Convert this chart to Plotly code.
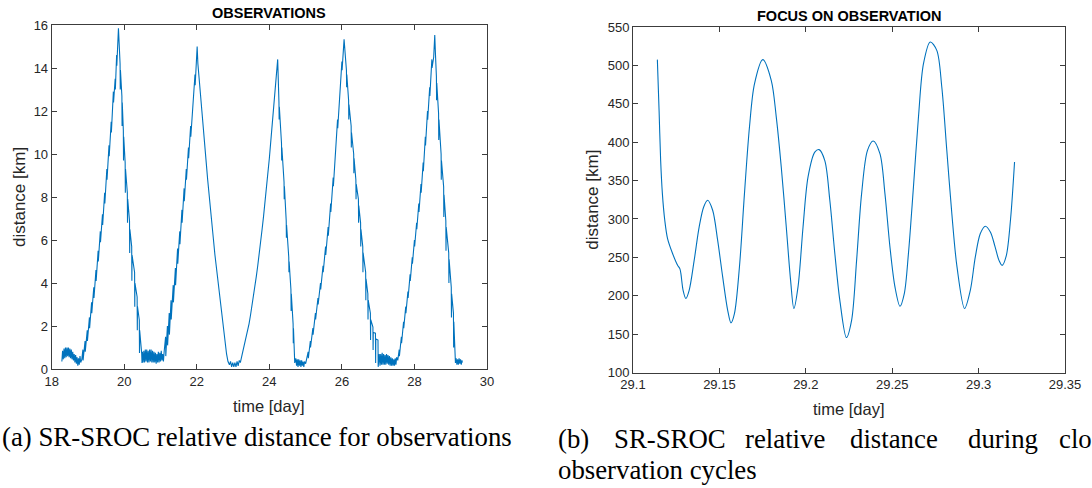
import plotly.graph_objects as go

# ---------------- data: left panel (time [day], distance [km]) ----------------
floor_a = [(18.28,0.35),(18.30,0.85),(18.32,0.45),(18.34,0.95),(18.36,0.5),(18.38,1.0),(18.40,0.55),(18.42,1.0),
           (18.44,0.6),(18.46,1.0),(18.48,0.55),(18.50,0.95),(18.52,0.5),(18.54,0.9),(18.56,0.45),(18.58,0.8),
           (18.60,0.4),(18.62,0.7),(18.64,0.3),(18.66,0.65),(18.68,0.25),(18.70,0.55),(18.72,0.15),(18.74,0.5),
           (18.76,0.2),(18.78,0.6),(18.80,0.3),(18.83,0.45)]
rise_1 = [(18.86,0.9),(18.865,0.4),(18.92,1.3),(18.925,0.8),(18.98,1.8),(18.985,1.3),(19.04,2.4),(19.045,1.9),
          (19.10,3.1),(19.105,2.6),(19.16,3.8),(19.165,3.3),(19.22,4.6),(19.225,4.1),(19.28,5.5),(19.285,5.0),
          (19.34,6.4),(19.345,5.9),(19.40,7.2),(19.405,6.7),(19.46,8.2),(19.465,7.7),(19.52,9.3),(19.525,8.8),
          (19.58,10.4),(19.585,9.9),(19.64,11.5),(19.645,11.0),(19.70,12.9),(19.705,12.4),(19.75,13.5),(19.755,13.0),
          (19.79,14.6),(19.795,14.1),(19.84,15.85)]
fall_1 = [(19.885,14.2),(19.89,13.0),(19.895,13.9),(19.935,12.7),(19.94,11.3),(19.945,12.4),(19.975,11.1),
          (19.98,9.7),(19.985,10.8),(20.025,9.6),(20.03,8.2),(20.035,9.3),(20.085,8.2),(20.09,6.8),(20.095,7.9),
          (20.145,6.9),(20.15,5.4),(20.155,6.5),(20.205,5.7),(20.21,4.1),(20.215,5.3),(20.285,4.5),(20.29,2.9),
          (20.295,4.0),(20.355,3.35),(20.36,1.8),(20.365,2.9),(20.415,2.28),(20.42,0.74),(20.425,1.8),
          (20.48,0.74),(20.49,0.28)]
floor_b = [(20.50,0.8),(20.52,0.3),(20.54,0.85),(20.56,0.3),(20.58,0.9),(20.60,0.35),(20.62,0.9),(20.64,0.3),
           (20.66,0.85),(20.68,0.3),(20.70,0.9),(20.72,0.35),(20.74,0.9),(20.76,0.3),(20.78,0.85),(20.80,0.3),
           (20.82,0.8),(20.84,0.3),(20.86,0.75),(20.88,0.25),(20.90,0.7),(20.92,0.3),(20.94,0.8),(20.96,0.3),
           (20.98,0.75),(21.00,0.35),(21.02,0.85),(21.04,0.4),(21.06,0.7),(21.08,0.35),(21.10,0.8)]
rise_2 = [(21.14,1.5),(21.145,0.6),(21.19,2.0),(21.195,1.1),(21.24,2.6),(21.245,1.6),(21.29,3.2),(21.295,2.3),
          (21.35,3.9),(21.355,3.1),(21.41,4.7),(21.415,3.9),(21.47,5.6),(21.475,4.9),(21.53,6.4),(21.535,5.8),
          (21.59,7.4),(21.595,6.8),(21.65,8.4),(21.655,7.8),(21.71,9.3),(21.715,8.8),(21.77,10.3),(21.775,9.8),
          (21.83,11.3),(21.835,10.8),(21.89,12.4),(21.895,12.0),(21.95,13.7),(21.955,13.2),(22.01,15.0)]
fall_2 = [(22.03,14.2),(22.06,13.4),(22.10,12.8),(22.14,12.0),(22.18,11.3),(22.22,10.4),(22.26,9.6),(22.30,8.8),
          (22.34,8.0),(22.38,7.3),(22.42,6.6),(22.46,6.0),(22.50,5.3),(22.54,4.7),(22.58,4.1),(22.62,3.5),
          (22.66,3.0),(22.70,2.4),(22.74,1.8),(22.78,1.2),(22.82,0.7),(22.86,0.35)]
floor_c = [(22.90,0.2),(22.93,0.35),(22.96,0.1),(22.99,0.3),(23.02,0.1),(23.05,0.3),(23.08,0.1),(23.11,0.35),
           (23.14,0.15),(23.17,0.4),(23.20,0.3)]
rise_3 = [(23.24,0.6),(23.28,0.9),(23.32,1.1),(23.36,1.4),(23.40,1.8),(23.44,2.1),(23.48,2.5),(23.52,2.9),
          (23.56,3.3),(23.60,3.8),(23.64,4.3),(23.68,4.8),(23.72,5.3),(23.76,5.9),(23.80,6.5),(23.84,7.1),
          (23.88,7.7),(23.92,8.3),(23.96,9.0),(24.00,9.8),(24.04,10.6),(24.08,11.4),(24.12,12.3),(24.16,13.1),
          (24.20,13.8),(24.23,14.4)]
fall_3 = [(24.265,12.4),(24.27,11.6),(24.275,12.2),(24.335,10.5),(24.34,9.7),(24.345,10.3),(24.405,8.7),
          (24.41,7.9),(24.415,8.5),(24.465,6.9),(24.47,6.1),(24.475,6.7),(24.535,5.2),(24.54,4.5),(24.545,5.0),
          (24.595,3.7),(24.60,2.7),(24.605,3.5),(24.655,2.1),(24.66,1.2),(24.665,1.9),(24.70,0.28)]
floor_d = [(24.73,0.5),(24.75,0.15),(24.77,0.45),(24.79,0.1),(24.81,0.45),(24.83,0.15),(24.85,0.4),(24.87,0.1),
           (24.89,0.4),(24.91,0.15),(24.93,0.35),(24.95,0.1),(24.97,0.35),(25.00,0.25),(25.03,0.5)]
rise_4 = [(25.07,0.8),(25.075,0.5),(25.13,1.3),(25.135,1.0),(25.20,1.9),(25.205,1.6),(25.27,2.6),(25.275,2.3),
          (25.34,3.3),(25.345,3.0),(25.41,4.0),(25.415,3.7),(25.48,4.8),(25.485,4.5),(25.55,5.7),(25.555,5.3),
          (25.62,6.6),(25.625,6.2),(25.69,7.7),(25.695,7.3),(25.76,8.9),(25.765,8.5),(25.82,10.1),(25.825,9.7),
          (25.88,11.6),(25.885,11.2),(25.94,13.0),(25.945,12.6),(26.00,14.3),(26.005,13.9),(26.06,15.33)]
fall_4 = [(26.125,13.9),(26.13,13.1),(26.135,13.7),(26.185,12.5),(26.19,11.6),(26.195,12.3),(26.255,11.3),
          (26.26,10.3),(26.265,11.0),(26.325,10.0),(26.33,9.1),(26.335,9.8),(26.385,8.8),(26.39,7.9),(26.395,8.6),
          (26.455,7.9),(26.46,6.8),(26.465,7.6),(26.515,6.8),(26.52,5.7),(26.525,6.5),(26.575,5.7),(26.58,4.5),
          (26.585,5.4),(26.655,4.5),(26.66,3.2),(26.665,4.2),(26.715,3.5),(26.72,2.3),(26.725,3.2),(26.785,2.6),
          (26.79,1.35),(26.795,2.3),(26.855,1.95),(26.86,0.88),(26.865,1.7),(26.925,1.67),(26.93,0.28),
          (26.935,1.4),(26.995,1.35),(27.0,0.1)]
floor_e = [(27.03,0.7),(27.05,0.15),(27.07,0.7),(27.09,0.2),(27.11,0.75),(27.13,0.2),(27.15,0.7),(27.17,0.2),
           (27.19,0.65),(27.21,0.2),(27.23,0.7),(27.25,0.25),(27.27,0.65),(27.29,0.2),(27.31,0.6),(27.33,0.15),
           (27.35,0.55),(27.37,0.15),(27.39,0.5),(27.41,0.15),(27.43,0.45),(27.45,0.15),(27.47,0.5),(27.49,0.2),
           (27.51,0.55),(27.54,0.4)]
rise_5 = [(27.58,0.9),(27.585,0.6),(27.64,1.5),(27.645,1.2),(27.70,2.2),(27.705,1.9),(27.76,2.9),(27.765,2.6),
          (27.82,3.6),(27.825,3.3),(27.88,4.4),(27.885,4.1),(27.94,5.2),(27.945,4.9),(28.00,6.0),(28.005,5.7),
          (28.06,6.8),(28.065,6.5),(28.12,7.7),(28.125,7.3),(28.18,8.6),(28.185,8.2),(28.24,9.6),(28.245,9.2),
          (28.30,10.8),(28.305,10.4),(28.36,12.0),(28.365,11.6),(28.42,13.1),(28.425,12.7),(28.48,14.4),
          (28.485,14.0),(28.53,14.5),(28.56,15.53)]
fall_5 = [(28.58,14.6),(28.605,13.6),(28.61,12.5),(28.615,13.3),(28.665,11.9),(28.67,10.65),(28.675,11.6),
          (28.735,10.0),(28.74,8.8),(28.745,9.7),(28.805,8.47),(28.81,7.07),(28.815,8.1),(28.865,6.9),(28.87,5.5),
          (28.875,6.6),(28.945,5.4),(28.95,4.0),(28.955,5.1),(29.015,3.8),(29.02,2.4),(29.025,3.5),(29.075,2.6),
          (29.08,1.0),(29.085,2.2),(29.13,0.28)]
floor_f = [(29.15,0.5),(29.17,0.2),(29.19,0.45),(29.21,0.2),(29.23,0.5),(29.25,0.25),(29.27,0.45),(29.29,0.2),
           (29.31,0.4),(29.32,0.3)]

segments_obs = [floor_a, rise_1, fall_1, floor_b, rise_2, fall_2, floor_c, rise_3, fall_3,
                floor_d, rise_4, fall_4, floor_e, rise_5, fall_5, floor_f]

# ---------------- data: right panel (time [day], distance [km]) ----------------
t_focus = [29.1141, 29.1151, 29.1160, 29.1170, 29.1184, 29.1200, 29.1229, 29.1258, 29.1271, 29.1277,
           29.1290, 29.1306, 29.1325, 29.1354, 29.1383, 29.1409, 29.1432, 29.1461, 29.1490, 29.1519,
           29.1548, 29.1567, 29.1587, 29.1616, 29.1645, 29.1674, 29.1703, 29.1751, 29.1800, 29.1829,
           29.1858, 29.1887, 29.1912, 29.1931, 29.1955, 29.1984, 29.2013, 29.2052, 29.2077, 29.2110,
           29.2139, 29.2168, 29.2197, 29.2235, 29.2265, 29.2294, 29.2323, 29.2357, 29.2390, 29.2429,
           29.2458, 29.2487, 29.2516, 29.2545, 29.2570, 29.2594, 29.2623, 29.2652, 29.2681, 29.2720,
           29.2758, 29.2787, 29.2816, 29.2845, 29.2875, 29.2919, 29.2952, 29.2981, 29.3010, 29.3039,
           29.3068, 29.3095, 29.3118, 29.3136, 29.3160, 29.3185, 29.3208]
d_focus = [507.5, 441, 376, 333, 298, 274.4, 255, 239.7, 235.3, 229,
           207, 196.3, 207, 246, 289.6, 315.6, 324.3, 311.3, 272, 224.5,
           181, 164.6, 176.7, 237.5, 333, 419.8, 476, 507.5, 480.6, 433,
           367.7, 289.6, 220, 183.3, 211.5, 289.6, 354.7, 387, 390.3, 376,
           324.3, 255, 194, 145.5, 168, 246, 333, 389.4, 401.6, 385,
           333, 263.5, 211.5, 186.3, 202.8, 255, 341.7, 432.8, 502.3, 530.5,
           519.6, 471.9, 389.4, 307, 237.5, 183.3, 207, 250.5, 281, 290.5,
           283, 264, 246, 239.5, 252, 300, 374.2]

# ---------------- text / ticks ----------------
left_xticks = [18, 20, 22, 24, 26, 28, 30]
left_yticks = [0, 2, 4, 6, 8, 10, 12, 14, 16]
right_xticks = [29.1, 29.15, 29.2, 29.25, 29.3, 29.35]
right_xtick_text = ["29.1", "29.15", "29.2", "29.25", "29.3", "29.35"]
right_yticks = [100, 150, 200, 250, 300, 350, 400, 450, 500, 550]
title_left = "OBSERVATIONS"
title_right = "FOCUS ON OBSERVATION"
xlabel = "time [day]"
ylabel = "distance [km]"
caption_a = "(a) SR-SROC relative distance for observations"
caption_b_words = ["(b)", "SR-SROC", "relative", "distance", "during", "clo"]
caption_b_line2 = "observation cycles"

# ---------------- figure ----------------
W, H = 1092, 488
def px(x):
    return x / W
def py(y):
    return 1 - y / H

t_obs = [p[0] for seg in segments_obs for p in seg]
d_obs = [p[1] for seg in segments_obs for p in seg]

LINE = "#0072BD"
AX = "#262626"
fig = go.Figure()
fig.add_trace(go.Scatter(x=t_obs, y=d_obs, mode="lines", line=dict(color=LINE, width=1.1),
                         xaxis="x", yaxis="y", showlegend=False))
fig.add_trace(go.Scatter(x=t_focus, y=d_focus, mode="lines",
                         line=dict(color=LINE, width=1.1, shape="spline", smoothing=0.9),
                         xaxis="x2", yaxis="y2", showlegend=False))

L = dict(l=51.7, r=487, t=25, b=369)
R = dict(l=633, r=1065, t=27, b=372.5)

axcommon = dict(showline=True, linecolor="#3c3c3c", linewidth=1, mirror="ticks", ticks="inside",
                ticklen=5, tickcolor="#3c3c3c", tickwidth=1, showgrid=False, zeroline=False,
                automargin=False,
                tickfont=dict(family="Liberation Sans, Arial", size=13, color=AX))

fig.update_layout(
    width=W, height=H, margin=dict(l=0, r=0, t=0, b=0, pad=0, autoexpand=False),
    paper_bgcolor="white", plot_bgcolor="white", showlegend=False,
    xaxis=dict(domain=[px(L["l"]), px(L["r"])], range=[18, 30], tickvals=left_xticks,
               anchor="y", **axcommon),
    yaxis=dict(domain=[py(L["b"]), py(L["t"])], range=[0, 16], tickvals=left_yticks,
               anchor="x", **axcommon),
    xaxis2=dict(domain=[px(R["l"]), px(R["r"])], range=[29.1, 29.35], tickvals=right_xticks,
                ticktext=right_xtick_text, anchor="y2", **axcommon),
    yaxis2=dict(domain=[py(R["b"]), py(R["t"])], range=[100, 550], tickvals=right_yticks,
                anchor="x2", **axcommon),
)

ann = []
def add(text, x, y, size, family="Liberation Sans, Arial", angle=0, xanchor="center", bold=False, color=AX):
    ann.append(dict(text=("<b>%s</b>" % text) if bold else text, x=px(x), y=py(y), xref="paper", yref="paper",
                    showarrow=False, xanchor=xanchor, yanchor="middle", textangle=angle,
                    font=dict(family=family, size=size, color=color)))

add(title_left, (L["l"] + L["r"]) / 2, 13.5, 14.5, bold=True, color="black")
add(title_right, (R["l"] + R["r"]) / 2, 15.5, 14.5, bold=True, color="black")
add(xlabel, (L["l"] + L["r"]) / 2, 406, 16.5)
add(xlabel, (R["l"] + R["r"]) / 2, 409, 16.5)
add(ylabel, 19, (L["t"] + L["b"]) / 2, 17, angle=-90)
add(ylabel, 593, (R["t"] + R["b"]) / 2, 17, angle=-90)

SERIF = "Liberation Serif, Times New Roman, serif"
add(caption_a, 0, 437, 26.8, family=SERIF, xanchor="left", color="black")
for word, x0 in zip(caption_b_words, [556, 612, 743, 848, 966, 1057]):
    add(word, x0, 439, 26.8, family=SERIF, xanchor="left", color="black")
add(caption_b_line2, 556, 470, 26.8, family=SERIF, xanchor="left", color="black")

fig.update_layout(annotations=ann)
fig.write_html("out.html")
